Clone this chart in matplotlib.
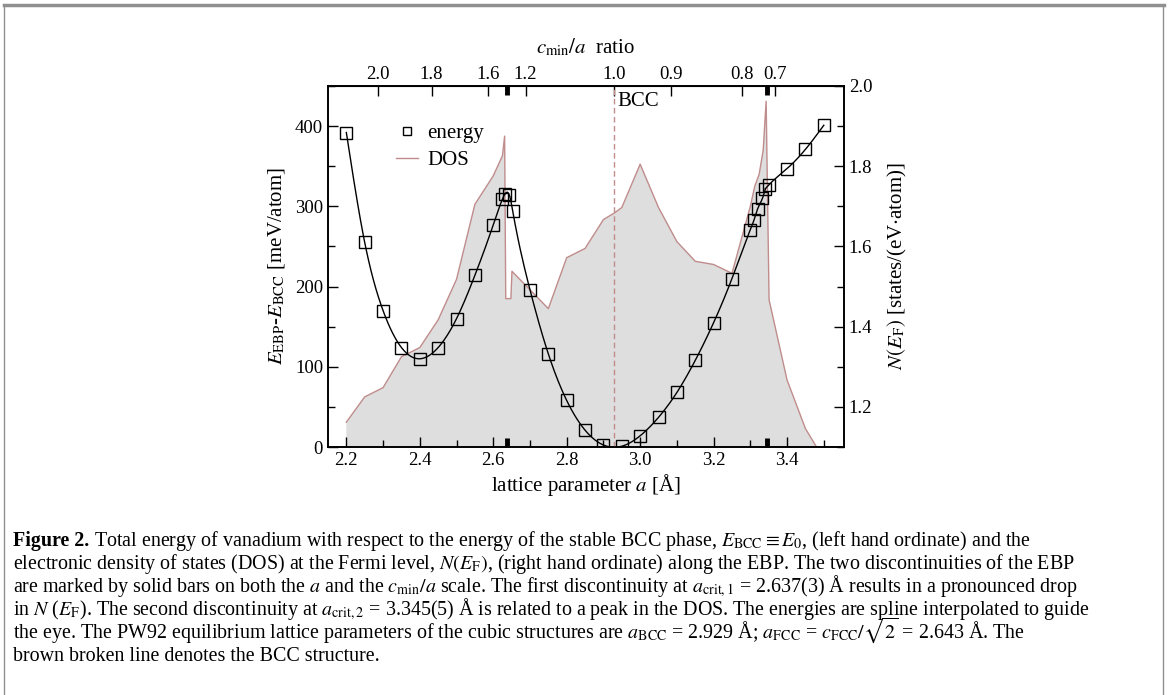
import numpy as np
import matplotlib
matplotlib.use("Agg")
import matplotlib.pyplot as plt
from matplotlib.lines import Line2D
import matplotlib.transforms as mtrans

plt.rcParams['font.family'] = ['Liberation Serif', 'DejaVu Serif']
plt.rcParams['mathtext.fontset'] = 'stix'

# energy of the EBP (meV/atom) vs lattice parameter a (Angstrom)
a_energy = [2.20, 2.25, 2.30, 2.35, 2.40, 2.45, 2.50, 2.55, 2.60, 2.625, 2.631,
            2.644, 2.653, 2.70, 2.75, 2.80, 2.85, 2.90, 2.95, 3.00, 3.05, 3.10,
            3.15, 3.20, 3.25, 3.30, 3.31, 3.32, 3.333, 3.341, 3.351, 3.40, 3.45, 3.50]
energy = [392, 255, 170, 124, 110, 124, 160, 214, 277, 309, 315,
          314, 294, 196, 116, 58, 21, 2.5, 1, 14, 37, 68,
          108, 155, 210, 271, 283, 297, 310, 322, 327, 347, 371, 401]

# DOS at the Fermi level (states/(eV atom))
a_dos = [2.20, 2.25, 2.30, 2.35, 2.40, 2.45, 2.50, 2.55, 2.60, 2.625, 2.631,
         2.634, 2.648, 2.651, 2.70, 2.75, 2.80, 2.85, 2.90, 2.929, 2.95, 3.00,
         3.05, 3.10, 3.15, 3.20, 3.25, 3.30, 3.312, 3.324, 3.335, 3.343, 3.351,
         3.40, 3.45, 3.50]
dos = [1.162, 1.225, 1.248, 1.325, 1.348, 1.417, 1.518, 1.705, 1.776, 1.826, 1.875,
       1.47, 1.47, 1.538, 1.492, 1.445, 1.572, 1.595, 1.667, 1.683, 1.697, 1.805,
       1.697, 1.612, 1.563, 1.555, 1.533, 1.70, 1.75, 1.78, 1.84, 1.962, 1.467,
       1.267, 1.146, 1.07]

a_crit = [2.637, 3.345]
a_bcc = 2.929
ratio_pos = [2.287, 2.432, 2.587, 2.688, 2.929, 3.084, 3.277, 3.367]
ratio_lbl = ['2.0', '1.8', '1.6', '1.2', '1.0', '0.9', '0.8', '0.7']

rosy = '#c08c8c'


def natural_spline(x, y, xs):
    x = np.asarray(x, float); y = np.asarray(y, float)
    n = len(x); h = np.diff(x)
    A = np.zeros((n, n)); r = np.zeros(n)
    A[0, 0] = A[-1, -1] = 1
    for i in range(1, n - 1):
        A[i, i - 1] = h[i - 1]
        A[i, i] = 2 * (h[i - 1] + h[i])
        A[i, i + 1] = h[i]
        r[i] = 6 * ((y[i + 1] - y[i]) / h[i] - (y[i] - y[i - 1]) / h[i - 1])
    M = np.linalg.solve(A, r)
    k = np.clip(np.searchsorted(x, xs) - 1, 0, n - 2)
    hk = h[k]; t1 = x[k + 1] - xs; t0 = xs - x[k]
    return (M[k] * t1**3 / (6 * hk) + M[k + 1] * t0**3 / (6 * hk)
            + (y[k] / hk - M[k] * hk / 6) * t1 + (y[k + 1] / hk - M[k + 1] * hk / 6) * t0)


fig = plt.figure(figsize=(11.68, 6.95), dpi=100)
ax = fig.add_axes([0.2808, 0.3568, 0.4418, 0.5195])
ax2 = ax.twinx()
ax.set_zorder(ax2.get_zorder() + 1)
ax.patch.set_visible(False)

# DOS on the right axis
ax2.fill_between(a_dos, dos, 0, color='#dedede', lw=0)
ax2.plot(a_dos, dos, color=rosy, lw=1.0)
ax2.set_ylim(1.1, 2.0)

# energy, spline pieces split at the two discontinuities
i1 = a_energy.index(2.631)
i2 = a_energy.index(3.341)
for s, e in [(0, i1), (i1, i2), (i2, len(a_energy) - 1)]:
    xs = np.linspace(a_energy[s], a_energy[e], 200)
    ax.plot(xs, natural_spline(a_energy[s:e + 1], energy[s:e + 1], xs), color='black', lw=1.0)
ax.plot(a_energy, energy, ls='none', marker='s', ms=8, mfc='none', mec='black', mew=1.0)

ax.axvline(a_bcc, color=rosy, lw=1.0, ls=(0, (4, 2.5)))
ax.text(a_bcc + 0.008, 431, 'BCC', fontsize=15, va='center', ha='left')

ax.set_xlim(2.15, 3.555)
ax.set_ylim(0, 450)
ax.set_xticks(np.arange(2.2, 3.41, 0.2))
ax.set_xticks(np.arange(2.2, 3.51, 0.1), minor=True)
ax.set_yticks(np.arange(0, 401, 100))
ax.set_yticks(np.arange(0, 451, 50), minor=True)
ax2.set_yticks(np.arange(1.2, 2.01, 0.2))
ax2.set_yticks(np.arange(1.1, 2.01, 0.1), minor=True)

for a in (ax, ax2):
    a.tick_params(which='both', direction='in', labelsize=13.5, width=1.0)
    a.tick_params(which='major', length=7)
    a.tick_params(which='minor', length=5)
    for sp in a.spines.values():
        sp.set_linewidth(1.2)
ax.tick_params(axis='both', which='both', top=False, right=False)
ax2.tick_params(axis='y', which='both', left=False)

top = ax.secondary_xaxis('top')
top.set_xticks(ratio_pos)
top.set_xticklabels(ratio_lbl)
top.tick_params(direction='in', length=7, width=1.0, labelsize=13.5, pad=2)
top.set_xlabel(r'$c_\mathrm{min}/a$  ratio', fontsize=15, labelpad=9)

# solid bars marking the discontinuities
tr = mtrans.blended_transform_factory(ax.transData, ax.transAxes)
for xc in a_crit:
    ax.plot([xc, xc], [0, 0.025], color='black', lw=3.5, transform=tr, clip_on=False, solid_capstyle='butt')
    ax.plot([xc, xc], [0.975, 1], color='black', lw=3.5, transform=tr, clip_on=False, solid_capstyle='butt')

ax.set_xlabel(r'lattice parameter $a$ [Å]', fontsize=15, labelpad=2)
ax.set_ylabel(r'$E_\mathrm{EBP}$-$E_\mathrm{BCC}$ [meV/atom]', fontsize=15, labelpad=6)
ax2.set_ylabel(r'$N(E_\mathrm{F})$ [states/(eV$\cdot$atom)]', fontsize=15, labelpad=10)

handles = [Line2D([], [], ls='none', marker='s', ms=6, mfc='none', mec='black', mew=1.0),
           Line2D([], [], color=rosy, lw=1.0)]
ax.legend(handles, ['energy', 'DOS'], loc='upper left', bbox_to_anchor=(0.095, 0.948),
          frameon=False, fontsize=15, handlelength=1.05, handletextpad=0.48, labelspacing=0.35)

# frame of the figure panel
fig.add_artist(Line2D([0.003, 0.997], [0.993, 0.993], color='#909090', lw=2.5, transform=fig.transFigure))
fig.add_artist(Line2D([0.003, 0.003], [0.0, 0.993], color='#909090', lw=1.0, transform=fig.transFigure))
fig.add_artist(Line2D([0.996, 0.996], [0.0, 0.993], color='#909090', lw=1.0, transform=fig.transFigure))

# caption
caption = [
    [('Figure 2.', 'bold'), (' Total energy of vanadium with respect to the energy of the stable BCC phase, '
                             r'$E_\mathrm{BCC}\equiv E_0$, (left hand ordinate) and the', 'normal')],
    [(r'electronic density of states (DOS) at the Fermi level, $N(E_\mathrm{F})$, (right hand ordinate) '
      'along the EBP. The two discontinuities of the EBP', 'normal')],
    [(r'are marked by solid bars on both the $a$ and the $c_\mathrm{min}/a$ scale. The first discontinuity at '
      r'$a_\mathrm{crit,1}$ = 2.637(3) Å results in a pronounced drop', 'normal')],
    [(r'in $N$ ($E_\mathrm{F}$). The second discontinuity at $a_\mathrm{crit,2}$ = 3.345(5) Å is related to a '
      'peak in the DOS. The energies are spline interpolated to guide', 'normal')],
    [(r'the eye. The PW92 equilibrium lattice parameters of the cubic structures are $a_\mathrm{BCC}$ = 2.929 Å; '
      r'$a_\mathrm{FCC}$ = $c_\mathrm{FCC}/\sqrt{2}$ = 2.643 Å. The', 'normal')],
    [('brown broken line denotes the BCC structure.', 'normal')],
]
renderer = fig.canvas.get_renderer()
for i, line in enumerate(caption):
    x = 13 / 1168
    y = 1 - (546 + 23 * i) / 695
    for txt, w in line:
        t = fig.text(x, y, txt, fontsize=14.4, fontweight=w, va='baseline', ha='left')
        bb = t.get_window_extent(renderer)
        x = bb.x1 / fig.bbox.width

fig.savefig('out.png', dpi=100)
